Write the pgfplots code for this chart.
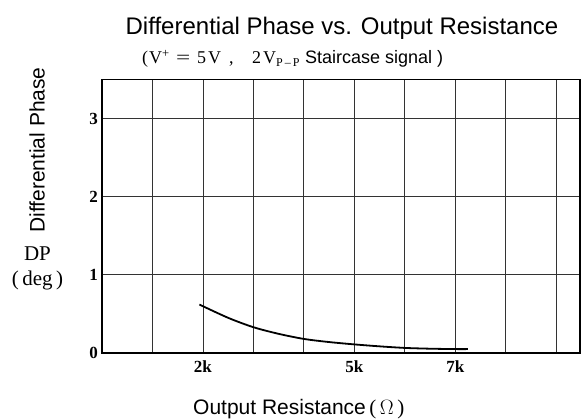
\documentclass[border=0pt]{standalone}
\usepackage{pgfplots}
\pgfplotsset{compat=1.18}
\usepackage{fontspec}
\setmainfont{Liberation Serif}
\newfontfamily\arial{Liberation Sans}
\begin{document}
\begin{tikzpicture}[x=1pt,y=1pt]
\path[use as bounding box] (0,0) rectangle (582,420);
\begin{axis}[
  at={(102pt,67pt)}, anchor=south west,
  scale only axis, width=478pt, height=273.5pt,
  xmin=0, xmax=9.47, ymin=0, ymax=3.5,
  xtick={1,2,3,4,5,6,7,8,9},
  xticklabels={,2k,,,5k,,7k,,},
  ytick={0,1,2,3},
  /pgf/number format/assume math mode=true,
  major tick length=0pt,
  grid=major,
  major grid style={black!80, line width=0.9pt},
  axis line style={black, line width=1.5pt},
  tick label style={font=\fontsize{17}{17}\selectfont\bfseries},
  xticklabel style={anchor=north, inner sep=0pt, yshift=-8pt},
  yticklabel style={anchor=east, inner sep=0pt, xshift=-4pt},
  clip=false,
]
\addplot[black, line width=1.8pt, smooth] coordinates {
  (1.93,0.62) (2.5,0.45) (3,0.33) (3.5,0.245) (4,0.18) (4.5,0.14) (5,0.11)
  (5.5,0.085) (6,0.065) (6.5,0.055) (7,0.05) (7.25,0.05)
};
\end{axis}
\node[font=\arial\fontsize{24}{24}\selectfont, anchor=base] at (342,385) {Differential Phase vs. Output Resistance};
\begin{scope}[every node/.style={anchor=base west, inner sep=0pt, font=\fontsize{18}{18}\selectfont}]
\node at (142,356) {(};
\node at (149,356) {V\textsuperscript{+}};
\node at (176,356) {\scalebox{1.4}[1]{=}};
\node at (197,356) {5};
\node at (208,356) {V};
\node at (229,356) {,};
\node at (252,356) {2};
\node at (263,356) {V\textsubscript{\fontsize{12}{12}\selectfont P\,--\,P}};
\node[font=\arial\fontsize{18}{18}\selectfont] at (305,356) {Staircase signal )};
\end{scope}
\node[font=\arial\fontsize{21}{21}\selectfont, rotate=90] at (37,270) {Differential Phase};
\node[font=\fontsize{21}{21}\selectfont] at (37.5,166.5) {DP};
\node[font=\fontsize{21}{21}\selectfont] at (37.5,140) {(\,deg\,)};
\node[anchor=base west, inner sep=0pt, font=\fontsize{21}{21}\selectfont] at (193,5) {{\arial Output Resistance}\,(\,$\Omega$\,)};
\end{tikzpicture}
\end{document}
